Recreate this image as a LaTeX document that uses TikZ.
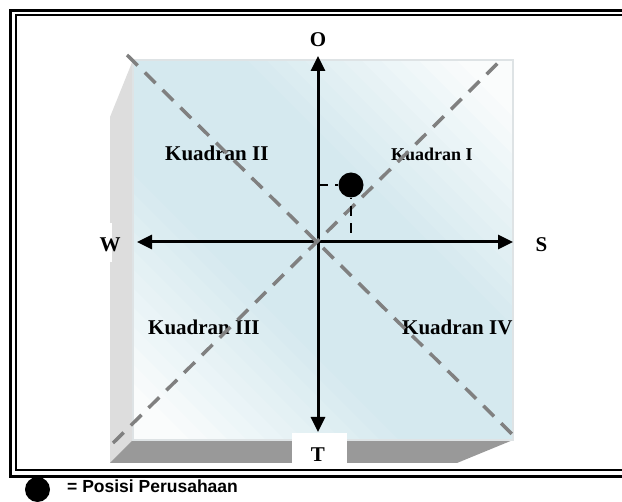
\documentclass[tikz,border=0pt]{standalone}
\usepackage{fontspec}
\setmainfont{Liberation Serif}
\newfontfamily\legendfont{Liberation Sans}
\usetikzlibrary{arrows.meta}
\definecolor{faceblue}{HTML}{D5E9EF}
\definecolor{facewhite}{HTML}{FAFCFC}
\definecolor{sidegrey}{HTML}{DDDDDD}
\definecolor{bottomgrey}{HTML}{999999}
\definecolor{edgegrey}{HTML}{DEE3E5}
\definecolor{diaggrey}{HTML}{808080}
\tikzset{
  frameouter/.style={line width=3pt, black},
  frameinner/.style={line width=2pt, black},
  axisline/.style={line width=3pt, black, -{Triangle[length=15pt,width=14pt]}},
  diagline/.style={line width=3.5pt, diaggrey, dash pattern=on 15pt off 10pt},
  guideline/.style={line width=1.6pt, black, dash pattern=on 10pt off 7pt},
  axislabel/.style={font=\bfseries\fontsize{21}{24}\selectfont, inner sep=0pt, anchor=base},
  quadlabel/.style={font=\bfseries\fontsize{21}{24}\selectfont, inner sep=0pt, anchor=base west},
  posdot/.style={circle, fill=black, minimum size=25pt, inner sep=0pt},
}
\begin{document}
\begin{tikzpicture}[x=1pt,y=-1pt]
\useasboundingbox (0,0) rectangle (622,502);
% frame
\draw[frameouter] (622,10.5) -- (10.5,10.5) -- (10.5,476.5) -- (622,476.5);
\draw[frameinner] (622,15.5) -- (15.5,15.5) -- (15.5,470.5) -- (622,470.5);
% box panels
\fill[sidegrey] (110,117) -- (133,60) -- (133,440) -- (110,463) -- cycle;
\fill[bottomgrey] (133,440) -- (513,440) -- (457,463) -- (110,463) -- cycle;
% front face: diagonal gradient (blue along TL-BR diagonal, white at BL and TR corners)
\begin{scope}
  \clip (133,60) rectangle (513,440);
  \foreach \i in {0,...,39} {
    \pgfmathsetmacro\ca{-307+19*\i}
    \pgfmathsetmacro\cb{\ca+20}
    \pgfmathsetmacro\dd{abs(\ca+9.5-73)/380}
    \pgfmathsetmacro\gg{max(0,min(100,(0.88-\dd)/0.6*100))}
    \fill[faceblue!\gg!facewhite] (\ca-600,-600) -- (\ca+1200,1200) -- (\cb+1200,1200) -- (\cb-600,-600) -- cycle;
  }
\end{scope}
\draw[edgegrey, line width=1.5pt] (133,60) rectangle (513,440);
% label backgrounds
\fill[white] (292,433) rectangle (347,463);
\fill[white] (94,223) rectangle (112,262);
% coordinates
\coordinate (C) at (318,242);
\coordinate (Ntip) at (318,56);
\coordinate (Stip) at (318,432);
\coordinate (Etip) at (513,242);
\coordinate (Wtip) at (137,242);
% axis labels
\node[axislabel] (O) at (318,47) {O};
\node[axislabel] (T) at (318,462) {T};
\node[axislabel] (S) at (541.5,252) {S};
\node[axislabel] (W) at (110,252) {W};
% quadrant labels
\node[quadlabel] (q2) at (165,161) {Kuadran II};
\node[quadlabel, font=\bfseries\fontsize{18}{21}\selectfont] (q1) at (391,161) {Kuadran I};
\node[quadlabel] (q3) at (148,335) {Kuadran III};
\node[quadlabel] (q4) at (402,335) {Kuadran IV};
% axes
\draw[axisline] (C) -- (Ntip);
\draw[axisline] (C) -- (Stip);
\draw[axisline] (C) -- (Etip);
\draw[axisline] (C) -- (Wtip);
% diagonals
\coordinate (d1a) at (127,55);
\coordinate (d1b) at (515,437);
\coordinate (d2a) at (113,443);
\coordinate (d2b) at (504,57);
\draw[diagline] (d1a) -- (d1b);
\draw[diagline] (d2a) -- (d2b);
% position dot
\node[posdot] (dot) at (351,185) {};
\coordinate (gh) at (318,185);
\coordinate (gv) at (351,233);
\draw[guideline] (gh) -- (dot.west);
\draw[guideline] (gv) -- (dot.south);
% legend
\node[posdot] (legdot) at (37.5,489.5) {};
\node[anchor=base west, inner sep=0pt, font=\legendfont\bfseries\fontsize{17.5}{20}\selectfont] (legtext) at (67,493) {= Posisi Perusahaan};
\end{tikzpicture}
\end{document}
